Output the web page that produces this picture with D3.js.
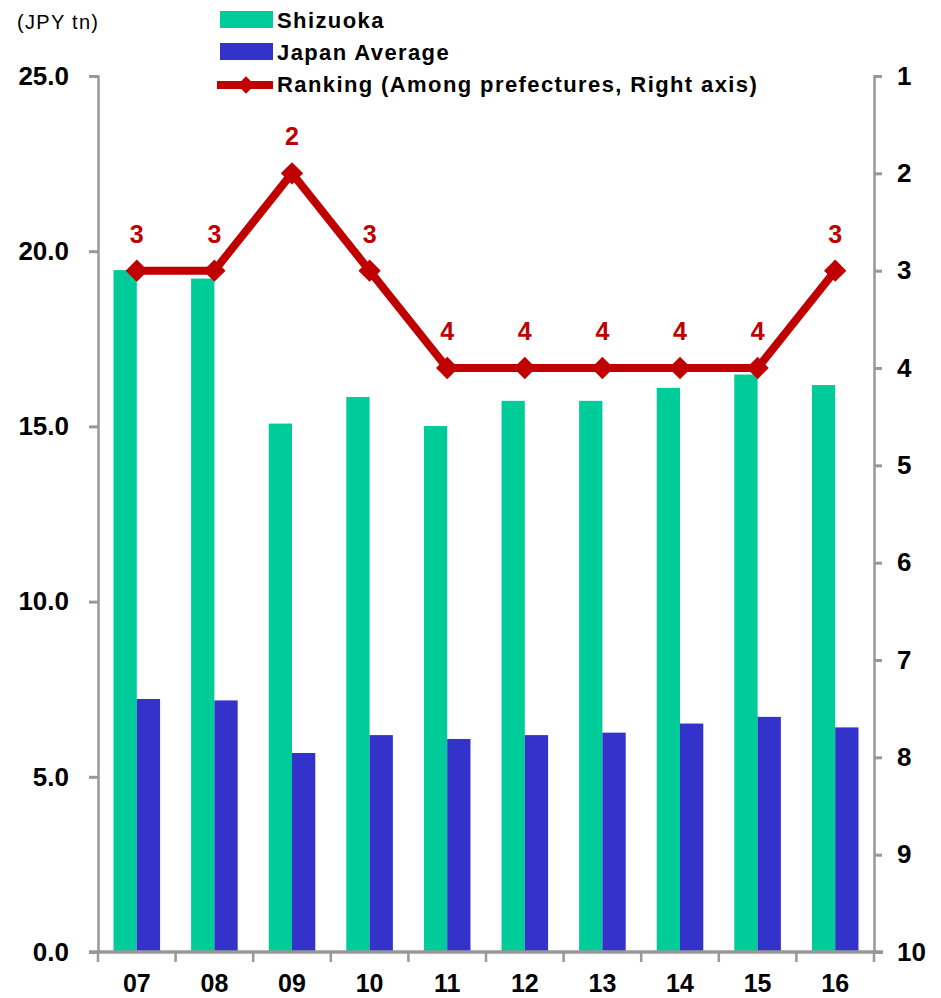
<!DOCTYPE html>
<html>
<head>
<meta charset="utf-8">
<script src="https://cdn.jsdelivr.net/npm/d3@7"></script>
<style>
  html, body { margin: 0; padding: 0; background: #fff; }
  svg { display: block; font-family: Arial, "Liberation Sans", sans-serif; }
</style>
</head>
<body>
<svg id="chart" width="941" height="998"></svg>
<script>
// Fiscal years
const years = ["07", "08", "09", "10", "11", "12", "13", "14", "15", "16"];
// Output, JPY tn
const shizuoka = [19.46, 19.22, 15.08, 15.84, 15.01, 15.73, 15.73, 16.10, 16.48, 16.18];
const japanAverage = [7.22, 7.18, 5.68, 6.19, 6.08, 6.19, 6.26, 6.52, 6.71, 6.41];
// Rank among prefectures (right axis)
const ranking = [3, 3, 2, 3, 4, 4, 4, 4, 4, 3];
// Axis ticks
const leftTicks = [0, 5, 10, 15, 20, 25];
const rightTicks = [1, 2, 3, 4, 5, 6, 7, 8, 9, 10];
// Legend entries
const seriesNames = ["Shizuoka", "Japan Average", "Ranking (Among prefectures, Right axis)"];

const COLORS = { green: "#00CC99", blue: "#3333CC", red: "#C00000", axis: "#989898" };

const svg = d3.select("#chart");
const plot = { left: 98, right: 874, top: 76, bottom: 952 };

const x = d3.scaleBand().domain(years).range([plot.left, plot.right])
  .paddingInner(0.4).paddingOuter(0.2);
const xOuter = d3.scaleBand().domain(years).range([plot.left, plot.right]);
const sub = d3.scaleBand().domain(["s", "j"]).range([0, x.bandwidth()]);
const yL = d3.scaleLinear().domain([0, 25]).range([plot.bottom, plot.top]);
const yR = d3.scaleLinear().domain([1, 10]).range([plot.top, plot.bottom]);

// Bars
const groups = svg.append("g").selectAll("g").data(years).join("g")
  .attr("transform", d => `translate(${x(d)},0)`);
groups.append("rect")
  .attr("x", sub("s")).attr("width", sub.bandwidth())
  .attr("y", (d, i) => yL(shizuoka[i])).attr("height", (d, i) => yL(0) - yL(shizuoka[i]))
  .attr("fill", COLORS.green);
groups.append("rect")
  .attr("x", sub("j")).attr("width", sub.bandwidth())
  .attr("y", (d, i) => yL(japanAverage[i])).attr("height", (d, i) => yL(0) - yL(japanAverage[i]))
  .attr("fill", COLORS.blue);

// Left axis
const leftAxis = svg.append("g").attr("transform", `translate(${plot.left},0)`)
  .call(d3.axisLeft(yL).tickValues(leftTicks).tickSize(9).tickSizeOuter(9).tickPadding(20)
    .tickFormat(d3.format(".1f")));
// Right axis
const rightAxis = svg.append("g").attr("transform", `translate(${plot.right},0)`)
  .call(d3.axisRight(yR).tickValues(rightTicks).tickSize(8).tickSizeOuter(8).tickPadding(15)
    .tickFormat(d3.format("d")));
[leftAxis, rightAxis].forEach(a => {
  a.select(".domain").attr("stroke", COLORS.axis).attr("stroke-width", 2.5);
  a.selectAll(".tick line").attr("stroke", COLORS.axis).attr("stroke-width", 3);
  a.selectAll(".tick text").attr("fill", "#000").attr("font-size", 26)
    .attr("font-weight", "bold").attr("font-family", "Arial, 'Liberation Sans', sans-serif");
});

// Bottom axis: category boundaries
const xAxisG = svg.append("g");
xAxisG.append("line")
  .attr("x1", plot.left - 9).attr("x2", plot.right + 9)
  .attr("y1", plot.bottom).attr("y2", plot.bottom)
  .attr("stroke", COLORS.axis).attr("stroke-width", 3.5);
const bounds = years.map(d => xOuter(d)).concat([plot.right]);
xAxisG.selectAll("line.tick").data(bounds).join("line").attr("class", "tick")
  .attr("x1", d => d).attr("x2", d => d)
  .attr("y1", plot.bottom).attr("y2", plot.bottom + 10)
  .attr("stroke", COLORS.axis).attr("stroke-width", 2.5);
xAxisG.selectAll("text").data(years).join("text")
  .attr("x", d => x(d) + x.bandwidth() / 2).attr("y", 992)
  .attr("text-anchor", "middle").attr("font-size", 25).attr("font-weight", "bold")
  .text(d => d);

// Ranking line
const cx = d => x(d) + x.bandwidth() / 2;
const line = d3.line().x((d, i) => cx(years[i])).y(d => yR(d));
svg.append("path").datum(ranking)
  .attr("d", line).attr("fill", "none")
  .attr("stroke", COLORS.red).attr("stroke-width", 8).attr("stroke-linejoin", "round");
const diamond = d3.symbol().type(d3.symbolSquare).size(250);
svg.append("g").selectAll("path").data(ranking).join("path")
  .attr("d", diamond)
  .attr("transform", (d, i) => `translate(${cx(years[i])},${yR(d)}) rotate(45)`)
  .attr("fill", COLORS.red);
svg.append("g").selectAll("text").data(ranking).join("text")
  .attr("x", (d, i) => cx(years[i])).attr("y", d => yR(d) - 28)
  .attr("text-anchor", "middle").attr("font-size", 25).attr("font-weight", "bold")
  .attr("fill", COLORS.red).text(d => d);

// Unit label
svg.append("text").attr("x", 17).attr("y", 29)
  .attr("font-size", 20).attr("letter-spacing", 1.3).text("(JPY tn)");

// Legend
const legend = svg.append("g");
const lx = 220, lw = 53;
legend.append("rect").attr("x", lx).attr("y", 11).attr("width", lw).attr("height", 17)
  .attr("fill", COLORS.green);
legend.append("rect").attr("x", lx).attr("y", 43).attr("width", lw).attr("height", 17)
  .attr("fill", COLORS.blue);
legend.append("line").attr("x1", 217).attr("x2", 273).attr("y1", 85).attr("y2", 85)
  .attr("stroke", COLORS.red).attr("stroke-width", 8);
legend.append("path").attr("d", d3.symbol().type(d3.symbolSquare).size(150))
  .attr("transform", "translate(246,85) rotate(45)").attr("fill", COLORS.red);
legend.selectAll("text").data(seriesNames).join("text")
  .attr("x", 277).attr("y", (d, i) => 28 + i * 32)
  .attr("font-size", 22).attr("font-weight", "bold").attr("letter-spacing", 1.4)
  .text(d => d);
</script>
</body>
</html>
